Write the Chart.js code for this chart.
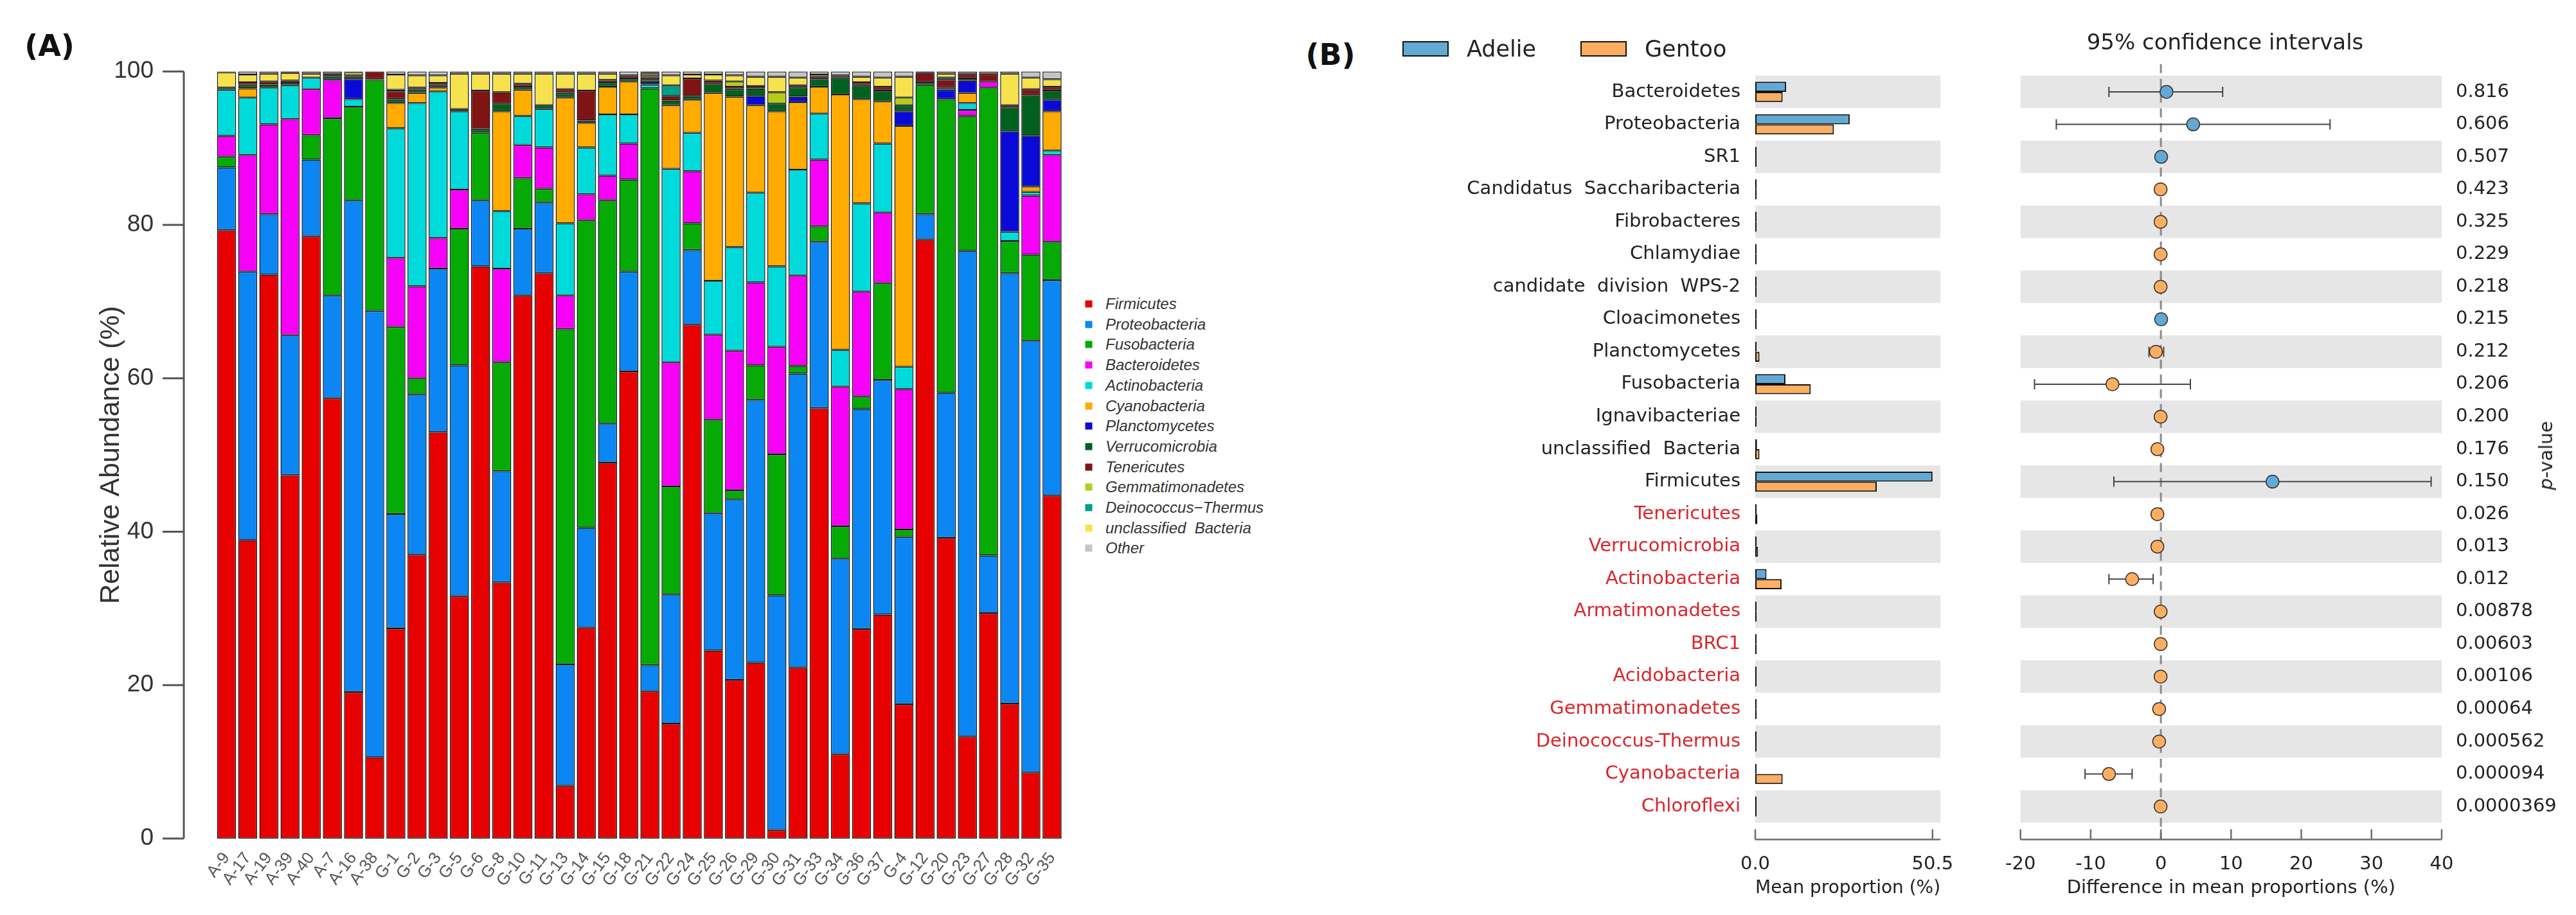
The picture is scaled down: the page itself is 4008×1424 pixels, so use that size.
<!DOCTYPE html>
<html><head><meta charset="utf-8">
<script src="https://cdn.jsdelivr.net/npm/chart.js@4.4.1/dist/chart.umd.min.js"></script>
<style>
html,body{margin:0;padding:0;background:#fff;}
#root{position:relative;width:4008px;height:1424px;overflow:hidden;background:#fff;}
canvas{position:absolute;top:0;}
.t{position:absolute;white-space:pre;line-height:1;}
</style></head><body><div id="root">
<canvas id="cA" width="1670" height="1424" style="left:0px;width:1670px;height:1424px"></canvas>
<canvas id="cB1" width="830" height="1424" style="left:2250px;width:830px;height:1424px"></canvas>
<canvas id="cB2" width="928" height="1424" style="left:3080px;width:928px;height:1424px"></canvas>
</div>
<script>
// ---------- Panel A data ----------
const samples = ['A-9','A-17','A-19','A-39','A-40','A-7','A-16','A-38','G-1','G-2','G-3','G-5','G-6','G-8','G-10','G-11','G-13','G-14','G-15','G-18','G-21','G-22','G-24','G-25','G-26','G-29','G-30','G-31','G-33','G-34','G-36','G-37','G-4','G-12','G-20','G-23','G-27','G-28','G-32','G-35'];
const phylaA = ['Firmicutes','Proteobacteria','Fusobacteria','Bacteroidetes','Actinobacteria','Cyanobacteria','Planctomycetes','Verrucomicrobia','Tenericutes','Gemmatimonadetes','Deinococcus\u2212Thermus','unclassified  Bacteria','Other'];
const phylaColors = ['#e60000','#0b86f2','#05aa05','#f700f7','#00dada','#ffab00','#0a0ad8','#00601e','#801414','#b5cc1a','#009f86','#f5e24c','#c4c4c4'];
const firmicutes = [79.3,38.9,73.5,47.4,78.5,57.4,19.1,10.6,27.4,37.0,53.0,31.6,74.6,33.4,70.8,73.7,6.9,27.5,49.0,60.9,19.2,15.0,67.0,24.5,20.7,22.9,1.1,22.3,56.1,11.0,27.3,29.2,17.5,78.1,39.2,13.3,29.4,17.6,8.6,44.7];
const proteobacteria = [8.2,35.0,7.9,18.2,10.0,13.4,64.1,58.2,14.9,20.9,21.3,30.1,8.6,14.5,8.7,9.2,15.8,13.0,5.1,13.0,3.4,16.8,9.7,17.9,23.5,34.3,30.6,38.3,21.7,25.5,28.7,30.6,21.8,3.3,18.9,63.3,7.5,56.1,56.3,28.1];
const fusobacteria = [1.4,0,0,0,3.2,23.1,12.2,30.1,24.4,2.1,0,17.8,8.8,14.2,6.6,1.8,43.7,40.1,29.1,12.0,75.2,14.1,3.5,12.2,1.2,4.5,18.4,1.0,2.0,4.2,1.6,12.6,1.0,16.8,38.3,17.6,61.0,4.2,11.2,5.0];
const bacteroidetes = [2.7,15.2,11.7,28.2,6.0,5.0,0,0,9.0,12.0,4.0,5.1,0,12.2,4.3,5.4,4.4,3.4,3.2,4.7,0,16.2,6.8,11.1,18.2,10.8,14.0,11.8,8.7,18.2,13.7,9.2,18.3,0,0,0.8,0.8,0,7.7,11.3];
const actinobacteria = [6.0,7.5,4.8,4.4,1.5,0,1.0,0,16.9,23.9,19.1,10.2,0,7.5,3.8,5.0,9.4,6.1,8.0,3.8,0.5,25.2,5.0,7.0,13.5,11.7,10.5,13.8,6.0,4.8,11.5,9.0,2.9,0,0,0.9,0,1.2,0.5,0.6];
const cyanobacteria = [0,1.2,0,0,0,0,0,0,3.3,1.3,0.5,0,0,13.0,3.4,0,16.4,3.2,3.6,4.3,0,8.3,4.3,24.5,19.6,11.4,20.2,8.8,3.5,33.3,13.6,5.5,31.4,0,0,1.3,0,0,0.7,5.1];
const planctomycetes = [0,0,0,0,0,0,2.6,0,0,0,0,0,0,0,0,0,0,0,0,0,0.3,0,0,0,0,1.2,0,0.7,0,0,0,0,1.9,0,1.2,1.6,0,13.1,6.6,1.5];
const verrucomicrobia = [0.3,0.4,0.4,0.3,0,0.5,0.3,0.1,0.5,0.4,0.3,0.3,0.5,1.0,0.4,0.5,0.6,0.3,0.6,0.4,0.3,0.6,0.5,1.2,1.0,1.0,1.0,1.2,1.0,2.2,1.8,1.4,0.8,0.4,0.3,0.3,0,3.1,5.3,1.2];
const tenericutes = [0,0.4,0.4,0.3,0,0.3,0.2,1.0,1.0,0.3,0.3,0,5.0,1.5,0.4,0,0.5,3.9,0.3,0.4,0.3,0.6,2.3,0.4,0.3,0.3,0,0.3,0.3,0.3,0.4,0.5,0,1.2,1.0,0.6,1.0,0.3,0.8,0.5];
const gemmatimonadetes = [0,0,0,0,0,0,0,0,0,0,0,0,0,0,0,0,0,0,0,0,0.3,0,0,0,0.7,0,1.5,0,0,0,0,0,1.0,0,0,0,0,0,0,0];
const deinococcus = [0,0,0,0,0,0,0,0,0.2,0,0,0,0,0,0,0,0,0,0,0,0,1.4,0,0,0,0,0,0,0,0,0,0,0,0,0.3,0,0,0,0,0];
const unclassified = [2.0,1.0,1.0,1.0,0.5,0,0.4,0,2.0,1.6,1.0,4.6,2.2,2.4,1.3,4.1,2.0,2.2,0.8,0,0.3,1.3,0.5,0.8,0.8,1.2,2.0,1.0,0.3,0,0.7,1.2,2.7,0,0.5,0,0,4.1,1.5,1.0];
const other = [0.1,0.4,0.3,0.2,0.3,0.3,0.1,0,0.4,0.5,0.5,0.3,0.3,0.3,0.3,0.3,0.3,0.3,0.3,0.5,0.2,0.5,0.4,0.4,0.5,0.7,0.7,0.8,0.4,0.5,0.7,0.8,0.7,0.2,0.3,0.3,0.3,0.3,0.8,1.0];
const yTicksA = [0,20,40,60,80,100];

// ---------- Panel B data ----------
const taxaB = ['Bacteroidetes','Proteobacteria','SR1','Candidatus  Saccharibacteria','Fibrobacteres','Chlamydiae','candidate  division  WPS-2','Cloacimonetes','Planctomycetes','Fusobacteria','Ignavibacteriae','unclassified  Bacteria','Firmicutes','Tenericutes','Verrucomicrobia','Actinobacteria','Armatimonadetes','BRC1','Acidobacteria','Gemmatimonadetes','Deinococcus-Thermus','Cyanobacteria','Chloroflexi'];
const adelieMean = [8.8,26.9,0.05,0.01,0.01,0.01,0.01,0.05,0.3,8.6,0.01,0.5,50.5,0.3,0.4,3.2,0.01,0.01,0.01,0.05,0.05,0.3,0.01];
const gentooMean = [7.8,22.4,0.01,0.05,0.05,0.05,0.05,0.01,1.2,15.8,0.05,1.2,34.6,0.6,0.8,7.5,0.05,0.05,0.05,0.2,0.2,7.8,0.05];
const meanDiff = [0.8,4.6,0.04,-0.04,-0.04,-0.04,-0.04,0.04,-0.7,-6.9,-0.04,-0.5,15.9,-0.5,-0.5,-4.1,-0.03,-0.03,-0.04,-0.25,-0.25,-7.4,-0.04];
const ciLow = [-7.4,-14.9,-0.1,-0.1,-0.1,-0.1,-0.1,-0.1,-1.7,-18.0,-0.1,-0.9,-6.7,-0.8,-0.8,-7.4,-0.1,-0.1,-0.1,-0.4,-0.4,-10.8,-0.1];
const ciHigh = [8.8,24.1,0.1,0.05,0.05,0.05,0.05,0.1,0.4,4.2,0.05,-0.1,38.5,-0.2,-0.2,-1.1,0.05,0.05,0.05,-0.1,-0.1,-4.1,0.05];
const pValues = ['0.816','0.606','0.507','0.423','0.325','0.229','0.218','0.215','0.212','0.206','0.200','0.176','0.150','0.026','0.013','0.012','0.00878','0.00603','0.00106','0.00064','0.000562','0.000094','0.0000369'];
const meanTicks = [0, 50.5];
const diffTicks = [-20,-10,0,10,20,30,40];
const groups = ['Adelie','Gentoo'];

// ---------- styles ----------
const ADELIE = '#62a9d4', GENTOO = '#fdae61', RED = '#d9262c', DARK = '#222', BAND = '#e6e6e6';
const SANS = "'Liberation Sans', Arial, sans-serif";
const DJV = "'DejaVu Sans', sans-serif";
const root = document.getElementById('root');
function addText(txt, x, y, css, tx){ const d=document.createElement('div'); d.className='t'; d.textContent=txt; d.style.cssText += `left:${x}px;top:${y}px;transform:${tx||'translate(-50%,-50%)'};`+css; root.appendChild(d); return d; }

// ---------- Panel A ----------
const seriesA = [firmicutes,proteobacteria,fusobacteria,bacteroidetes,actinobacteria,cyanobacteria,planctomycetes,verrucomicrobia,tenericutes,gemmatimonadetes,deinococcus,unclassified,other];
const axisA = { id:'axisA', afterDraw(chart){
  const y = chart.scales.y, ctx = chart.ctx, ax = chart.chartArea.left - 50;
  ctx.save(); ctx.strokeStyle='#555'; ctx.lineWidth=3; ctx.beginPath();
  ctx.moveTo(ax, y.getPixelForValue(yTicksA[0])); ctx.lineTo(ax, y.getPixelForValue(yTicksA[yTicksA.length-1]));
  yTicksA.forEach(v=>{ const p=y.getPixelForValue(v); ctx.moveTo(ax-33,p); ctx.lineTo(ax,p); });
  ctx.stroke(); ctx.restore();
}};
new Chart(document.getElementById('cA'), {
  type:'bar',
  data:{ labels: samples, datasets: phylaA.map((n,i)=>({ label:n, data:seriesA[i], backgroundColor:phylaColors[i], borderColor:'#151515', borderWidth:1.5, borderSkipped:false, barPercentage:0.9, categoryPercentage:1.0 })) },
  options:{
    responsive:false, animation:false, devicePixelRatio:1,
    layout:{ padding:{ top:53, right:15, bottom:0, left:0 } },
    plugins:{ legend:{display:false}, tooltip:{enabled:false} },
    scales:{
      x:{ stacked:true, grid:{display:false}, border:{display:false},
          ticks:{ autoSkip:false, maxRotation:53, minRotation:53, padding:8, color:'#555', font:{family:SANS, size:26} },
          afterFit:s=>{ s.height = 119; } },
      y:{ stacked:true, min:0, max:100, grid:{display:false}, border:{display:false},
          afterBuildTicks:s=>{ s.ticks = yTicksA.map(v=>({value:v})); },
          ticks:{ padding:89, color:'#333', font:{family:SANS, size:37} },
          title:{ display:true, text:'Relative Abundance (%)', color:'#333', font:{family:SANS, size:43}, padding:{top:147, bottom:0} },
          afterFit:s=>{ s.width = 336; } }
    }
  },
  plugins:[axisA]
});
addText('(A)', 77, 71, `font:bold 46px ${DJV};color:#111;`);
phylaA.forEach((n,i)=>{
  const cy = 473 + i*31.7;
  addText('', 1694, cy, `width:11px;height:11px;background:${phylaColors[i]};`);
  addText(n, 1720, cy, `font:italic 24px ${SANS};color:#333;`, 'translate(0,-50%)');
});

// ---------- Panel B helpers ----------
const AXIS_GAP = 26;
function bandsDraw(chart){
  const {ctx, chartArea:ca, scales:{y}} = chart;
  const n = chart.data.labels.length;
  const h = y.getPixelForValue(1) - y.getPixelForValue(0);
  ctx.save(); ctx.fillStyle = BAND;
  for(let i=0;i<n;i+=2){ const c=y.getPixelForValue(i); ctx.fillRect(ca.left, c-h/2, ca.right-ca.left, h); }
  ctx.restore();
}
function bottomAxisDraw(chart, vals){
  const {ctx, chartArea:ca, scales:{x}} = chart;
  const ya = ca.bottom + AXIS_GAP;
  ctx.save(); ctx.strokeStyle='#6e6e6e'; ctx.lineWidth=2.5; ctx.beginPath();
  ctx.moveTo(ca.left, ya); ctx.lineTo(ca.right, ya);
  vals.forEach(v=>{ const p=x.getPixelForValue(v); ctx.moveTo(p,ya); ctx.lineTo(p,ya-16); });
  ctx.stroke(); ctx.restore();
}
const labelColor = c => (parseFloat(pValues[c.index]) < 0.05 ? RED : DARK);

// ---------- Panel B left: mean proportions ----------
new Chart(document.getElementById('cB1'), {
  type:'bar',
  data:{ labels:taxaB, datasets:[
    { label:groups[0], data:adelieMean, backgroundColor:ADELIE, borderColor:'#111', borderWidth:2, borderSkipped:false, minBarLength:2 },
    { label:groups[1], data:gentooMean, backgroundColor:GENTOO, borderColor:'#111', borderWidth:2, borderSkipped:false, minBarLength:2 } ] },
  options:{
    indexAxis:'y', responsive:false, animation:false, devicePixelRatio:1,
    layout:{ padding:{ top:117.7, right:21, bottom:0, left:0 } },
    datasets:{ bar:{ categoryPercentage:0.62, barPercentage:1.0 } },
    plugins:{ legend:{display:false}, tooltip:{enabled:false} },
    scales:{
      y:{ grid:{display:false}, border:{display:false},
          ticks:{ autoSkip:false, padding:15, color:labelColor, font:{family:DJV, size:29} },
          afterFit:s=>{ s.width = 481; } },
      x:{ min:0, max:52.75, grid:{display:false}, border:{display:false},
          afterBuildTicks:s=>{ s.ticks = meanTicks.map(v=>({value:v})); },
          ticks:{ padding:40, color:DARK, font:{family:DJV, size:29}, callback:v=>Number(v).toFixed(1) },
          title:{ display:true, text:'Mean proportion (%)', color:DARK, font:{family:DJV, size:29}, padding:{top:0, bottom:24} },
          afterFit:s=>{ s.height = 143.6; } }
    }
  },
  plugins:[{ id:'b1deco', beforeDatasetsDraw:c=>bandsDraw(c), afterDraw:c=>bottomAxisDraw(c, meanTicks) }]
});

// ---------- Panel B right: differences with 95% CI ----------
new Chart(document.getElementById('cB2'), {
  type:'line',
  data:{ labels:taxaB, datasets:[{ data:meanDiff, showLine:false, pointRadius:10, pointHoverRadius:10, pointBorderColor:'#333', pointBorderWidth:1.5,
        pointBackgroundColor: c => (c.raw > 0 ? ADELIE : GENTOO) }] },
  options:{
    indexAxis:'y', responsive:false, animation:false, devicePixelRatio:1,
    layout:{ padding:{ top:117.7, right:0, bottom:0, left:47 } },
    plugins:{ legend:{display:false}, tooltip:{enabled:false} },
    scales:{
      y:{ type:'category', offset:true, display:false },
      y2:{ type:'category', labels:pValues, position:'right', offset:true, grid:{display:false}, border:{display:false},
           ticks:{ autoSkip:false, padding:14, color:DARK, font:{family:DJV, size:29} },
           afterFit:s=>{ s.width = 209; } },
      x:{ type:'linear', min:-20, max:40, grid:{display:false}, border:{display:false},
          afterBuildTicks:s=>{ s.ticks = diffTicks.map(v=>({value:v})); },
          ticks:{ padding:40, color:DARK, font:{family:DJV, size:29} },
          title:{ display:true, text:'Difference in mean proportions (%)', color:DARK, font:{family:DJV, size:29}, padding:{top:0, bottom:24} },
          afterFit:s=>{ s.height = 143.6; } }
    }
  },
  plugins:[{ id:'ciDeco',
    beforeDatasetsDraw(chart){
      bandsDraw(chart);
      const {ctx, chartArea:ca, scales:{x,y}} = chart;
      const x0 = x.getPixelForValue(0);
      ctx.save();
      ctx.strokeStyle='#8a8a8a'; ctx.lineWidth=3; ctx.setLineDash([14,9]);
      ctx.beginPath(); ctx.moveTo(x0, ca.top-18); ctx.lineTo(x0, ca.bottom + AXIS_GAP); ctx.stroke();
      ctx.setLineDash([]); ctx.strokeStyle='#444'; ctx.lineWidth=2;
      ciLow.forEach((lo,i)=>{
        const c = y.getPixelForValue(i), a = x.getPixelForValue(lo), b = x.getPixelForValue(ciHigh[i]);
        ctx.beginPath(); ctx.moveTo(a,c); ctx.lineTo(b,c);
        ctx.moveTo(a,c-8); ctx.lineTo(a,c+8); ctx.moveTo(b,c-8); ctx.lineTo(b,c+8); ctx.stroke();
      });
      ctx.restore();
    },
    afterDraw:c=>bottomAxisDraw(c, diffTicks) }]
});

// ---------- Panel B text ----------
addText('(B)', 2070, 85, `font:bold 46px ${DJV};color:#111;`);
[[2182, ADELIE, 2282],[2459, GENTOO, 2559]].forEach((g,i)=>{
  addText('', g[0], 76, `width:68px;height:20px;background:${g[1]};border:2.5px solid #111;`, 'translate(0,-50%)');
  addText(groups[i], g[2], 76, `font:35px ${DJV};color:${DARK};`, 'translate(0,-50%)');
});
addText('95% confidence intervals', 3462, 65, `font:34px ${DJV};color:${DARK};`);
const pv = addText('', 3961, 709, `font:29px ${DJV};color:${DARK};`, 'translate(-50%,-50%) rotate(-90deg)');
pv.innerHTML = '<i>p</i>-value';
</script>
</body></html>
